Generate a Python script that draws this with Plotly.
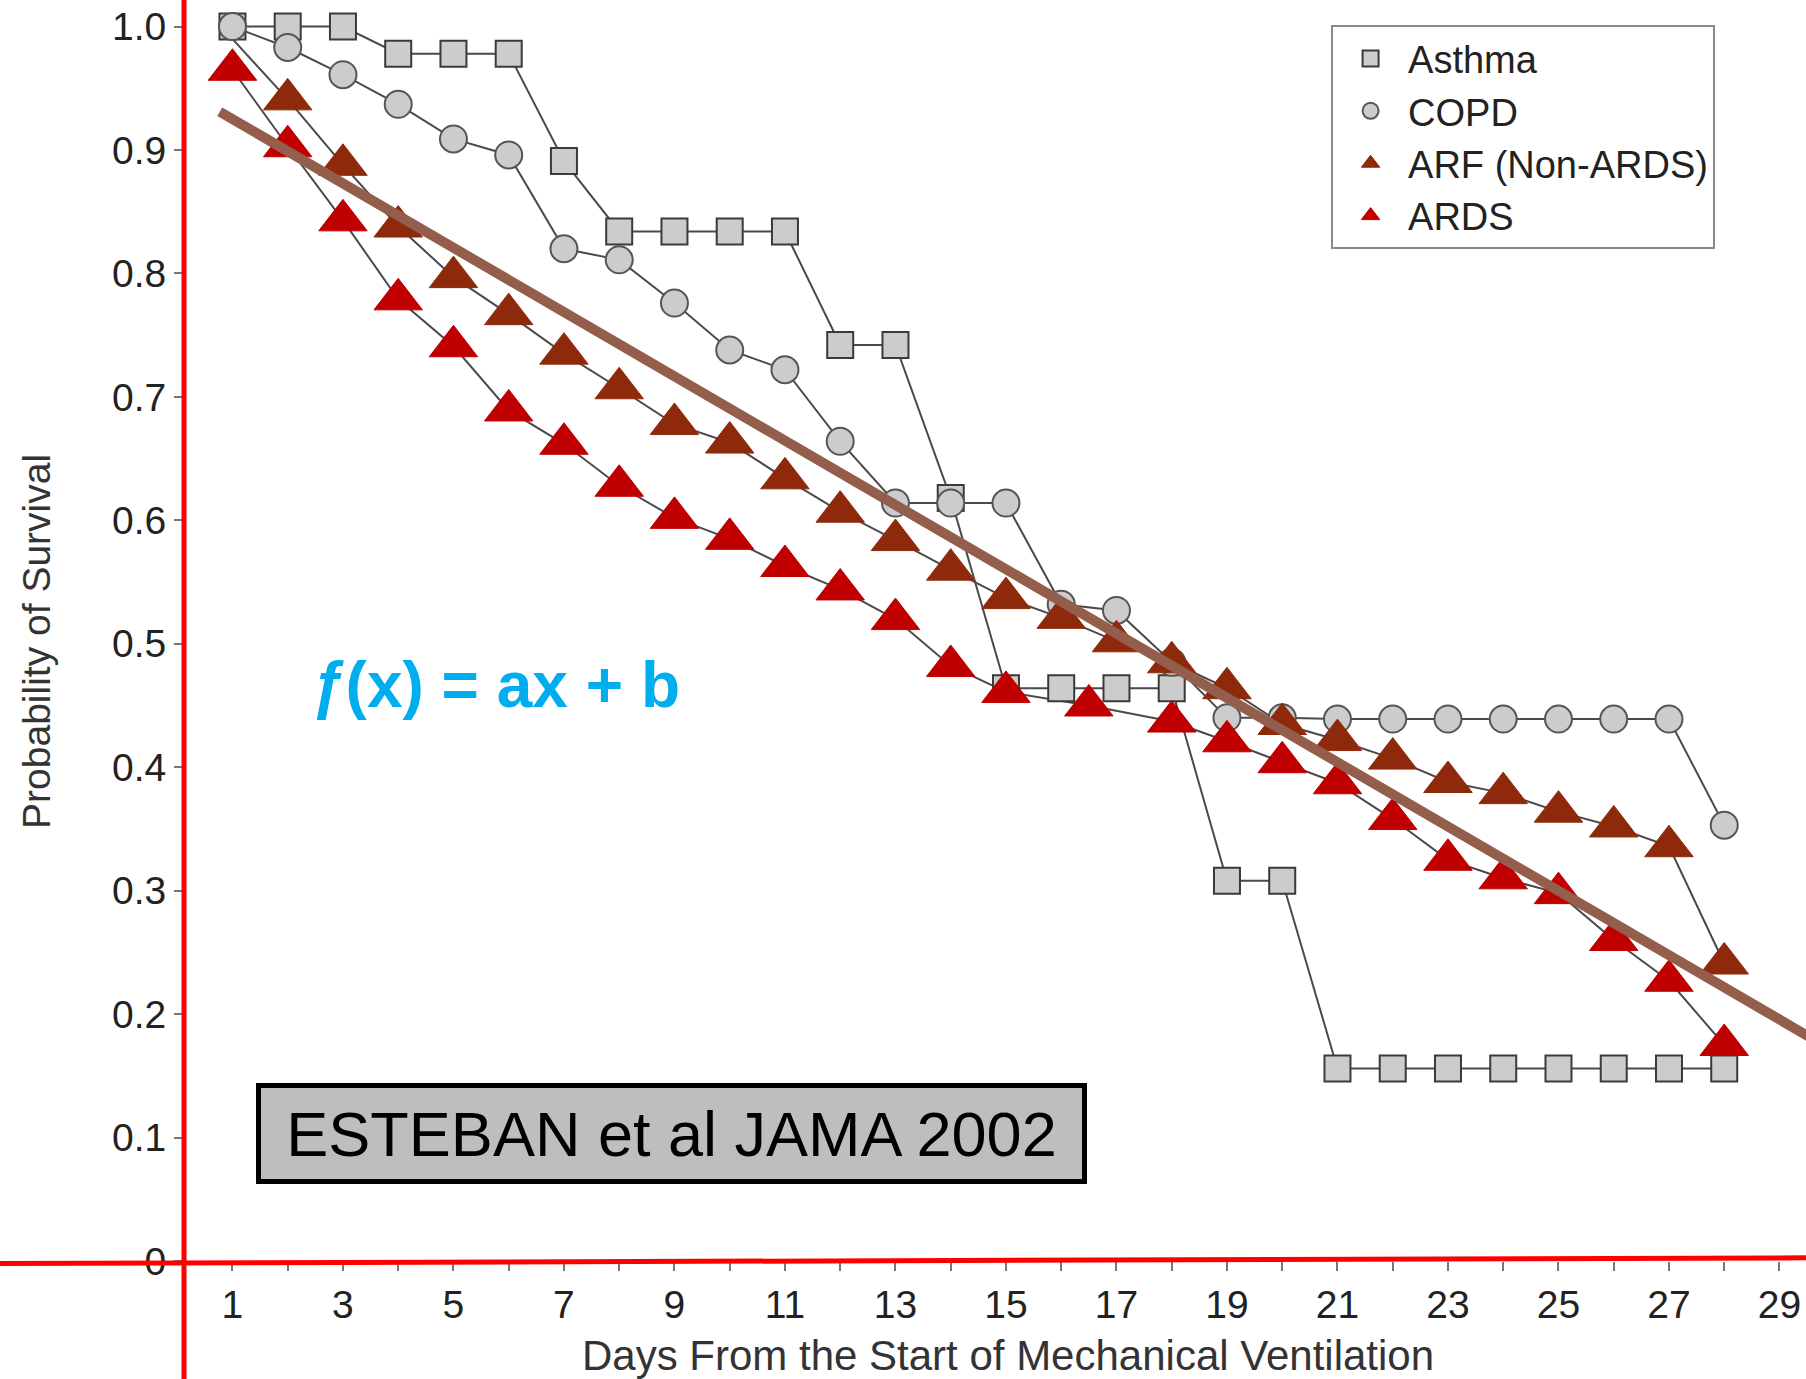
import plotly.graph_objects as go

# ---------------- data ----------------
DAYS = list(range(1, 29))

ASTHMA = [1.0, 1.0, 1.0, 0.978, 0.978, 0.978, 0.891, 0.834, 0.834, 0.834,
          0.834, 0.742, 0.742, 0.618, 0.464, 0.464, 0.464, 0.464, 0.308, 0.308,
          0.156, 0.156, 0.156, 0.156, 0.156, 0.156, 0.156, 0.156]

COPD = [1.0, 0.983, 0.961, 0.937, 0.909, 0.896, 0.820, 0.811, 0.776, 0.738,
        0.722, 0.664, 0.614, 0.614, 0.614, 0.532, 0.527, 0.485, 0.440, 0.440,
        0.439, 0.439, 0.439, 0.439, 0.439, 0.439, 0.439, 0.353]

ARF = [0.99, 0.941, 0.888, 0.838, 0.797, 0.767, 0.735, 0.707, 0.678, 0.663,
       0.634, 0.607, 0.584, 0.560, 0.537, 0.521, 0.502, 0.485, 0.464, 0.435,
       0.422, 0.407, 0.388, 0.379, 0.364, 0.352, 0.336, 0.241]

ARDS_DAYS = [1, 2, 3, 4, 5, 6, 7, 8, 9, 10, 11, 12, 13, 14, 15, 16.5,
             18, 19, 20, 21, 22, 23, 24, 25, 26, 27, 28]
ARDS = [0.965, 0.903, 0.843, 0.779, 0.741, 0.689, 0.662, 0.628, 0.602, 0.585,
        0.563, 0.544, 0.520, 0.482, 0.461, 0.450, 0.437, 0.421, 0.404, 0.387,
        0.358, 0.325, 0.310, 0.298, 0.260, 0.227, 0.175]

# linear trend drawn over the data  f(x) = ax + b
TREND_X = [0.77, 29.6]
TREND_Y = [0.931, 0.180]

X_TICKS = list(range(1, 30))
X_TICKTEXT = [str(d) if d % 2 == 1 else "" for d in X_TICKS]
Y_TICKS = [0, 0.1, 0.2, 0.3, 0.4, 0.5, 0.6, 0.7, 0.8, 0.9, 1.0]
Y_TICKTEXT = ["0", "0.1", "0.2", "0.3", "0.4", "0.5", "0.6", "0.7", "0.8", "0.9", "1.0"]

SERIES = ["Asthma", "COPD", "ARF (Non-ARDS)", "ARDS"]

# ---------------- styles ----------------
FONT = "Liberation Sans, Arial, Helvetica, sans-serif"
LINE_GREY = "#4a4a4a"
FILL_GREY = "#cccccc"
ARF_COLOR = "#8e2a0b"
ARDS_COLOR = "#c00000"
TREND_COLOR = "#935e4b"

fig = go.Figure()

# connecting lines first (under all markers)
for name, xs, ys in [("Asthma", DAYS, ASTHMA), ("COPD", DAYS, COPD),
                     ("ARF (Non-ARDS)", DAYS, ARF), ("ARDS", ARDS_DAYS, ARDS)]:
    fig.add_trace(go.Scatter(x=xs, y=ys, mode="lines", showlegend=False,
                             line=dict(color=LINE_GREY, width=2),
                             hoverinfo="skip", legendgroup=name))

fig.add_trace(go.Scatter(x=DAYS, y=ASTHMA, mode="markers", name=SERIES[0], legendgroup=SERIES[0],
                         legendrank=1,
                         marker=dict(symbol="square", size=26, color=FILL_GREY,
                                     line=dict(color="#3a3a3a", width=2))))
fig.add_trace(go.Scatter(x=DAYS, y=COPD, mode="markers", name=SERIES[1], legendgroup=SERIES[1],
                         legendrank=2,
                         marker=dict(symbol="circle", size=27, color=FILL_GREY,
                                     line=dict(color="#555555", width=2))))
# day-1 ARF marker is hidden under the Asthma/COPD start point in the reference
fig.add_trace(go.Scatter(x=DAYS[1:], y=ARF[1:], mode="markers", name=SERIES[2], legendgroup=SERIES[2],
                         legendrank=3,
                         marker=dict(symbol="triangle-up", size=42, color=ARF_COLOR,
                                     line=dict(color=ARF_COLOR, width=1))))
fig.add_trace(go.Scatter(x=ARDS_DAYS, y=ARDS, mode="markers", name=SERIES[3], legendgroup=SERIES[3],
                         legendrank=4,
                         marker=dict(symbol="triangle-up", size=42, color=ARDS_COLOR,
                                     line=dict(color=ARDS_COLOR, width=1))))

fig.add_trace(go.Scatter(x=TREND_X, y=TREND_Y, mode="lines", showlegend=False,
                         line=dict(color=TREND_COLOR, width=10), hoverinfo="skip"))

fig.update_layout(
    width=1806, height=1379,
    margin=dict(l=184, r=0, t=0, b=118, autoexpand=False),
    paper_bgcolor="white", plot_bgcolor="white",
    font=dict(family=FONT, color="#222222"),
    showlegend=True,
    legend=dict(x=0.7072, y=0.98, xanchor="left", yanchor="top",
                bgcolor="white", bordercolor="#8a8a8a", borderwidth=2,
                font=dict(size=38, family=FONT, color="#222222"),
                itemsizing="trace", itemwidth=65, tracegroupgap=0),
    xaxis=dict(range=[0.123, 29.48], tickmode="array", tickvals=X_TICKS, ticktext=X_TICKTEXT,
               ticks="outside", ticklen=9, tickwidth=1.5, tickcolor="#777777",
               showline=False, showgrid=False, zeroline=False,
               tickfont=dict(size=39, family=FONT, color="#222222")),
    yaxis=dict(range=[0, 1.0215], tickmode="array", tickvals=Y_TICKS, ticktext=Y_TICKTEXT,
               ticks="outside", ticklen=9, tickwidth=1.5, tickcolor="#777777",
               showline=False, showgrid=False, zeroline=False,
               tickfont=dict(size=39, family=FONT, color="#222222")),
    shapes=[
        dict(type="line", xref="paper", yref="paper", x0=0, x1=0, y0=-0.1, y1=1.0,
             line=dict(color="#ff0000", width=5)),
        dict(type="line", xref="paper", yref="paper", x0=-0.1135, x1=1.0, y0=-0.002, y1=0.0025,
             line=dict(color="#ff0000", width=5)),
    ],
    annotations=[
        dict(text="<b><i>ƒ</i>(x) = ax + b</b>", xref="paper", yref="paper",
             x=0.1917, y=0.4568, xanchor="center", yanchor="middle", showarrow=False,
             font=dict(size=64, family=FONT, color="#00aeef")),
        dict(text="ESTEBAN et al JAMA 2002", xref="paper", yref="paper",
             x=0.3006, y=0.1011, xanchor="center", yanchor="middle", showarrow=False,
             width=821, height=91, bgcolor="#bebebe", bordercolor="#000000",
             borderwidth=5, borderpad=0,
             font=dict(size=63, family=FONT, color="#000000")),
        dict(text="Probability of Survival", xref="paper", yref="paper",
             x=-0.0906, y=0.491, xanchor="center", yanchor="middle", showarrow=False,
             textangle=-90, font=dict(size=39, family=FONT, color="#333333")),
        dict(text="Days From the Start of Mechanical Ventilation", xref="paper", yref="paper",
             x=0.508, y=-0.0753, xanchor="center", yanchor="middle", showarrow=False,
             font=dict(size=42, family=FONT, color="#333333")),
    ],
)

fig.write_html("out.html")
